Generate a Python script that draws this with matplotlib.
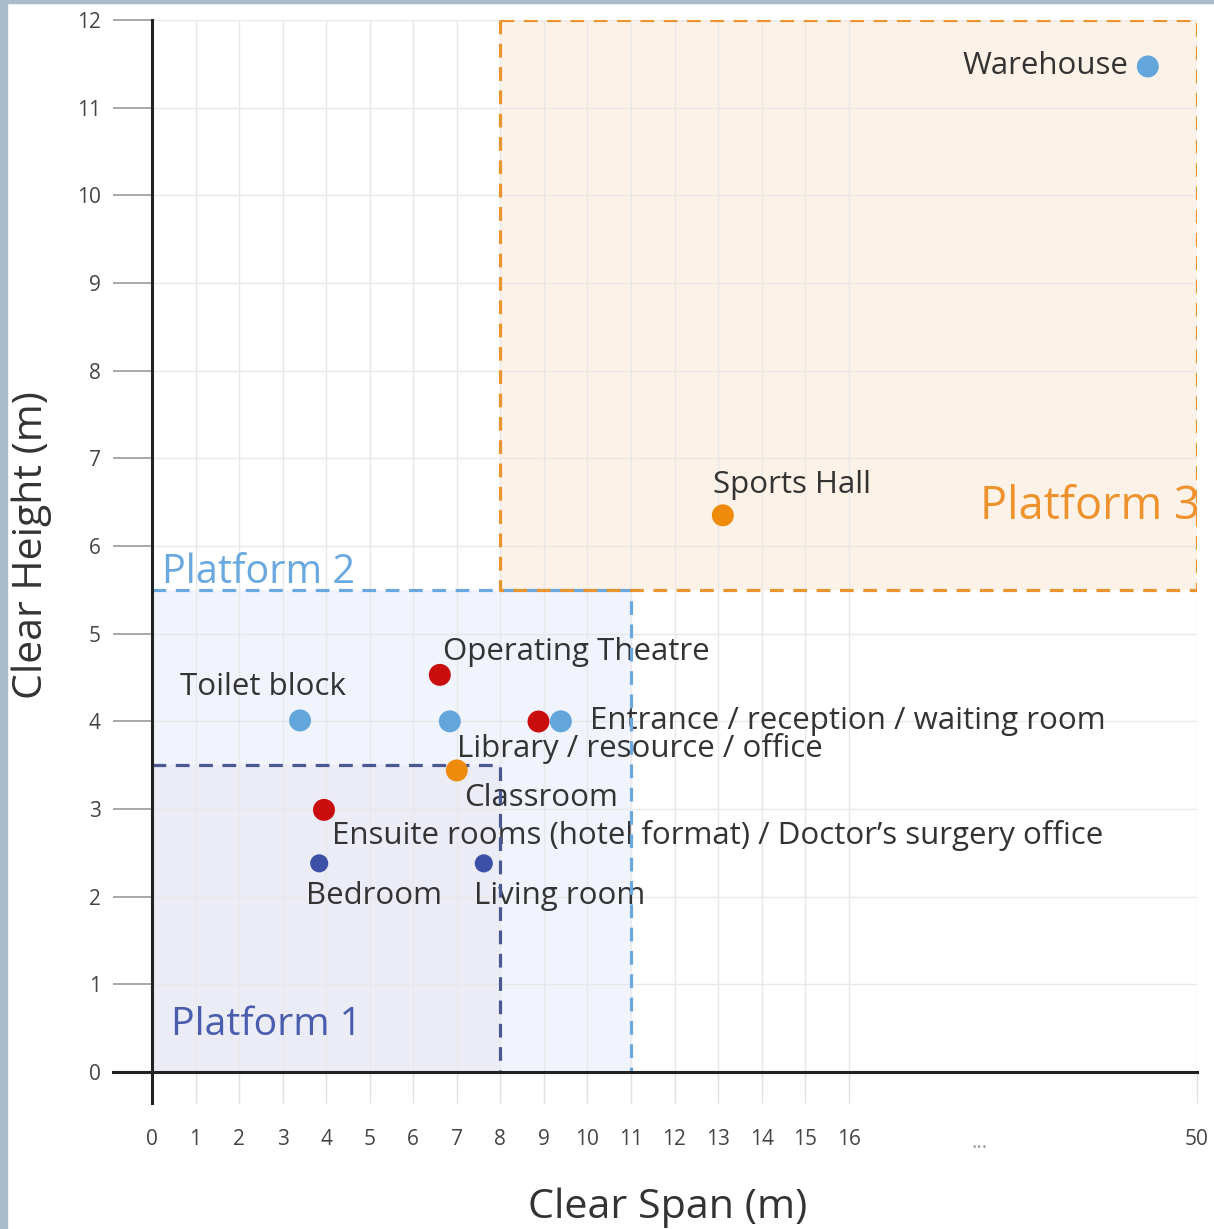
import matplotlib.pyplot as plt
from matplotlib.patches import Rectangle

plt.rcParams['font.family'] = ['Open Sans', 'DejaVu Sans']

# ------------------------
# Data
# ------------------------

# x positions are on the chart's display scale (tick "50" sits at position 24)
room_names = ["Warehouse", "Sports Hall", "Operating Theatre", "Toilet block",
              "Library / resource / office", "Entrance / reception / waiting room",
              "Classroom", "Ensuite rooms (hotel format) / Doctor\u2019s surgery office",
              "Bedroom", "Living room"]
room_span = [22.87, 13.11, 6.61, 3.40, 6.84, 9.39, 7.00, 3.95, 3.84, 7.62]
room_height = [11.47, 6.35, 4.53, 4.01, 4.00, 4.00, 3.44, 2.99, 2.38, 2.38]
room_group = ["light", "orange", "red", "light", "light", "light", "orange", "red", "dark", "dark"]
# label offsets in pixels (dx, dy, ha)
label_offsets = [(-19, 0, "right"), (-10, 30, "left"), (3, 23, "left"), (-37, 33, "center"),
                 (7, -27, "left"), (29, 0, "left"), (7, -28, "left"), (8, -26, "left"),
                 (-13, -33, "left"), (-10, -33, "left")]

# unlabelled extra point next to the entrance
extra_span = [8.87]
extra_height = [4.00]
extra_group = ["red"]

x_ticks = list(range(0, 17)) + [24]
x_tick_labels = [str(i) for i in range(0, 17)] + ["50"]
y_ticks = list(range(0, 13))

# platforms: (x0, x1, y0, y1)
platforms = {
    "Platform 1": (0, 8, 0, 3.5),
    "Platform 2": (0, 11, 0, 5.5),
    "Platform 3": (8, 24, 5.5, 12),
}

group_colors = {"light": "#62a6dc", "red": "#c90d0d", "orange": "#ee8a0c", "dark": "#3b50a6"}
group_sizes = {"light": 250, "red": 250, "orange": 250, "dark": 170}

# ------------------------
# Figure
# ------------------------

fig = plt.figure(figsize=(12.14, 12.29), dpi=100)
fig.patches.append(Rectangle((0, 0), 7 / 1214, 1, transform=fig.transFigure,
                             color="#a8bccb", zorder=-5))
fig.patches.append(Rectangle((0, 1 - 3 / 1229), 1, 3 / 1229, transform=fig.transFigure,
                             color="#a8bccb", zorder=-5))

ax = fig.add_axes([152 / 1214, 1 - 1072 / 1229, 1045 / 1214, 1052 / 1229])
ax.set_xlim(0, 24)
ax.set_ylim(0, 12)
for s in ax.spines.values():
    s.set_visible(False)

ax.set_xticks(x_ticks)
ax.set_xticklabels(x_tick_labels)
ax.set_yticks(y_ticks)
ax.tick_params(axis="y", length=28, width=1.2, color="#9a9a9a", pad=9,
               labelsize=15, labelcolor="#444444")
ax.tick_params(axis="x", length=22, width=1, color="#e0e0e0", pad=19,
               labelsize=15, labelcolor="#444444")
ax.grid(True, color="#e8e8e8", lw=1, zorder=0)
ax.set_axisbelow(True)
ax.text(19, -0.8, "...", ha="center", va="center", fontsize=15, color="#999999")

# platform fills
fills = {"Platform 2": "#f0f4fc", "Platform 1": "#ebecf6", "Platform 3": "#fdf1e5"}
edges = {"Platform 2": "#6aa8e0", "Platform 1": "#4a5994", "Platform 3": "#ea9430"}
dash = (0, (4.3, 3))
for name in ["Platform 2", "Platform 1", "Platform 3"]:
    x0, x1, y0, y1 = platforms[name]
    ax.add_patch(Rectangle((x0, y0), x1 - x0, y1 - y0, facecolor=fills[name],
                           edgecolor="none", zorder=0.5, alpha=0.92))
for name in ["Platform 2", "Platform 1", "Platform 3"]:
    x0, x1, y0, y1 = platforms[name]
    ax.plot([x0, x1, x1], [y1, y1, y0], color=edges[name], lw=2.3, ls=dash, zorder=3)
# platform 3 left and bottom edges
x0, x1, y0, y1 = platforms["Platform 3"]
ax.plot([x0, x0, x1], [y1, y0, y0], color=edges["Platform 3"], lw=2.3, ls=dash, zorder=3)

ax.text(0.23, 5.70, "Platform 2", color="#6aa8e0", fontsize=28.5, ha="left", va="center")
ax.text(0.43, 0.54, "Platform 1", color="#4a5cae", fontsize=28.2, ha="left", va="center")
ax.text(24.07, 6.44, "Platform 3", color="#ee922e", fontsize=32.5, ha="right", va="center")

# axis lines
ax.plot([-0.9, 24], [0, 0], color="#222222", lw=2.2, clip_on=False, zorder=5)
ax.plot([0, 0], [-0.35, 12], color="#222222", lw=2.2, clip_on=False, zorder=5)

# points
ax.scatter(extra_span, extra_height, s=[group_sizes[g] for g in extra_group],
           c=[group_colors[g] for g in extra_group], zorder=4, linewidths=0)
ax.scatter(room_span, room_height, s=[group_sizes[g] for g in room_group],
           c=[group_colors[g] for g in room_group], zorder=4, linewidths=0)

for name, xs, ys, (dx, dy, ha) in zip(room_names, room_span, room_height, label_offsets):
    ax.annotate(name, (xs, ys), xytext=(dx, dy), textcoords="offset pixels",
                ha=ha, va="center", fontsize=22.5, color="#333333", zorder=2)

fig.text(668 / 1214, 1 - 1208 / 1229, "Clear Span (m)", ha="center", va="center",
         fontsize=29.7, color="#333333")
fig.text(32 / 1214, 1 - 545 / 1229, "Clear Height (m)", ha="center", va="center",
         fontsize=29.5, color="#333333", rotation=90)

fig.savefig("out.png", dpi=100)
